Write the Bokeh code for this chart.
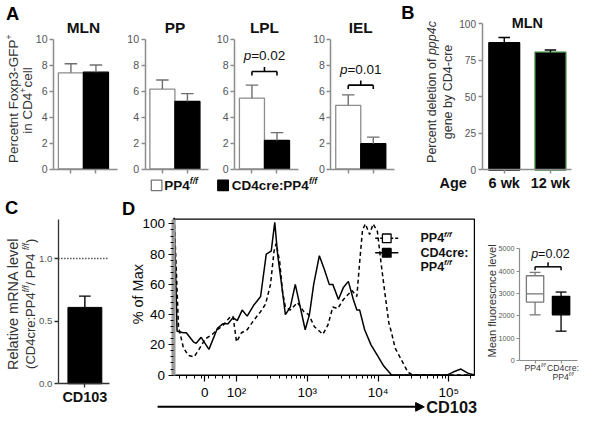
import math
from bokeh.plotting import figure
from bokeh.models import Range1d, Label, FixedTicker, Arrow, NormalHead, PrintfTickFormatter
from bokeh.layouts import row, column
from bokeh.embed import file_html
from bokeh.resources import INLINE

# ---------------- data ----------------
A_sites = ["MLN", "PP", "LPL", "IEL"]
A_ctrl = [7.4, 6.15, 5.45, 4.9]
A_ctrl_err = [0.7, 0.7, 1.0, 0.8]
A_ko = [7.45, 5.2, 2.2, 1.95]
A_ko_err = [0.55, 0.6, 0.6, 0.5]
A_p = [None, None, "0.02", "0.01"]
A_brk = [None, None, 7.5, 6.45]
A_yticks = [0, 2, 4, 6, 8, 10]

B_ages = ["6 wk", "12 wk"]
B_del = [87.0, 80.5]
B_err = [3.5, 1.5]
B_yticks = [0, 25, 50, 75, 100]

C_gene = "CD103"
C_rel = [0.61]
C_err = [0.09]
C_ref = 1.0
C_yticks = [0.0, 0.5, 1.0]

D_xticks = [1.55, 2, 3, 4, 5]
D_xlab = ["0", "10²", "10³", "10⁴", "10⁵"]
D_yticks = [0, 20, 40, 60, 80, 100]
D_cre_x = [1.12, 1.16, 1.25, 1.29, 1.39, 1.43, 1.50, 1.61, 1.73, 1.81,
           1.88, 1.95, 2.01, 2.08, 2.15, 2.24, 2.34, 2.42, 2.49, 2.54,
           2.58, 2.65, 2.69, 2.76, 2.83, 2.90, 2.97, 3.03, 3.09, 3.17,
           3.24, 3.31, 3.36, 3.44, 3.51, 3.58, 3.65, 3.70, 3.74, 3.81,
           3.90, 3.99, 4.08, 4.19, 4.97, 5.06, 5.17, 5.28, 5.36]
D_cre_y = [104, 29, 28, 28, 22, 21, 25, 17, 31, 34,
           34, 38, 36, 43, 39, 46, 52, 80, 82, 101,
           80, 55, 40, 45, 60, 45, 30, 40, 60, 79,
           70, 60, 60, 50, 58, 62, 50, 43, 43, 30,
           20, 13, 6, 0, 0, 2, 4, 1, 0]
D_wt_x = [1.12, 1.18, 1.25, 1.32, 1.40, 1.47, 1.56, 1.66, 1.73, 1.81,
          1.90, 1.95, 2.00, 2.07, 2.15, 2.24, 2.34, 2.41, 2.48, 2.53,
          2.56, 2.61, 2.65, 2.69, 2.76, 2.86, 2.95, 3.02, 3.10, 3.22,
          3.29, 3.36, 3.43, 3.51, 3.63, 3.70, 3.74, 3.78, 3.82, 3.88,
          3.93, 3.99, 4.04, 4.08, 4.15, 4.19, 4.24, 4.33, 4.42, 4.49, 5.36]
D_wt_y = [104, 32, 18, 13, 12, 17, 24, 27, 30, 33,
          38, 39, 22, 28, 30, 36, 42, 47, 60, 82,
          87, 75, 55, 45, 43, 48, 42, 40, 32, 27,
          33, 45, 44, 50, 56, 52, 75, 96, 100, 93,
          100, 95, 75, 60, 35, 28, 18, 10, 2, 0, 0]

E_lo = [2050, 1320]
E_q1 = [2620, 2050]
E_med = [2990, 2450]
E_q3 = [3800, 2880]
E_hi = [3950, 3070]
E_brk = 4200
E_p = "0.02"
E_yticks = [0, 1000, 2000, 3000, 4000, 5000]

# ---------------- helpers ----------------
FONT = "Liberation Sans"
K = 416 / 432
GREY = "#8c8c8c"
TXT = "#222222"

WR = {' ': 278, '!': 278, '(': 333, ')': 333, '+': 584, ',': 278, '-': 333, '.': 278, '/': 278,
      ':': 278, '=': 584, '%': 889,
      'A': 667, 'B': 667, 'C': 722, 'D': 722, 'E': 667, 'F': 611, 'G': 778, 'H': 722, 'I': 278,
      'J': 500, 'K': 667, 'L': 556, 'M': 833, 'N': 722, 'O': 778, 'P': 667, 'Q': 778, 'R': 722,
      'S': 667, 'T': 611, 'U': 722, 'V': 667, 'W': 944, 'X': 667, 'Y': 667, 'Z': 611,
      'a': 556, 'b': 556, 'c': 500, 'd': 556, 'e': 556, 'f': 278, 'g': 556, 'h': 556, 'i': 222,
      'j': 222, 'k': 500, 'l': 222, 'm': 833, 'n': 556, 'o': 556, 'p': 556, 'q': 556, 'r': 333,
      's': 500, 't': 278, 'u': 556, 'v': 500, 'w': 722, 'x': 500, 'y': 500, 'z': 500}
WB = dict(WR)
WB.update({':': 333, 'A': 722, 'B': 722, 'K': 722, 'L': 611, 'R': 722, 'b': 611, 'd': 611,
           'f': 333, 'g': 611, 'h': 611, 'i': 278, 'k': 556, 'l': 278, 'm': 889, 'n': 611,
           'o': 611, 'p': 611, 'q': 611, 'r': 389, 's': 556, 't': 333, 'u': 611, 'v': 556,
           'w': 778, 'x': 556, 'y': 556, 'c': 556})


def tw(s, size, bold=False):
    tab = WB if bold else WR
    return sum(tab.get(c, 556) for c in s) / 1000.0 * size


def bx(X):
    if X <= 0:
        return 0
    if X >= 600:
        return 584
    return int(round(3 + X * K))


def by(Y):
    if Y <= 0:
        return 0
    if Y >= 432:
        return 416
    return int(round(Y * K))


class Panel:
    """A figure whose frame fills its whole canvas; xmap / ymap pair reference
    pixel positions with data values, so that axes can sit at fixed locations."""

    def __init__(self, canvas, xmap, ymap, axes=True):
        Xa, Ya, Xb, Yb = canvas
        (XA, xa), (XB, xb) = xmap
        (YA, ya), (YB, yb) = ymap
        self.pa, self.xa, self.pb, self.xb = 3 + XA * K, xa, 3 + XB * K, xb
        self.qa, self.ya, self.qb, self.yb = YA * K, ya, YB * K, yb
        x0, x1 = self._x(bx(Xa)), self._x(bx(Xb))
        y0, y1 = self._y(by(Yb)), self._y(by(Ya))
        kw = {} if axes else dict(x_axis_type=None, y_axis_type=None)
        p = figure(width=bx(Xb) - bx(Xa), height=by(Yb) - by(Ya),
                   x_range=Range1d(x0, x1), y_range=Range1d(y0, y1),
                   output_backend="svg", toolbar_location=None,
                   min_border_left=0, min_border_right=0, min_border_top=0,
                   min_border_bottom=0, **kw)
        p.xgrid.visible = False
        p.ygrid.visible = False
        p.outline_line_color = None
        p.background_fill_color = "white"
        p.border_fill_color = "white"
        self.p = p

    def _x(self, page):
        return self.xa + (page - self.pa) / (self.pb - self.pa) * (self.xb - self.xa)

    def _y(self, page):
        return self.ya + (page - self.qa) / (self.qb - self.qa) * (self.yb - self.ya)

    def dx(self, X):
        return self._x(3 + X * K)

    def dy(self, Y):
        return self._y(Y * K)

    def rx(self, x):
        return (self.pa + (x - self.xa) / (self.xb - self.xa) * (self.pb - self.pa) - 3) / K

    def ry(self, y):
        return (self.qa + (y - self.ya) / (self.yb - self.ya) * (self.qb - self.qa)) / K


def put(P, X, Y, text, size, bold=False, italic=False, color=TXT, align="left",
        baseline="middle", angle=0.0):
    style = ("bold " if bold else "") + ("italic" if italic else "")
    style = style.strip() or "normal"
    P.p.add_layout(Label(x=P.dx(X), y=P.dy(Y), text=text, text_font=FONT,
                         text_font_size=f"{size * K:.2f}px", text_font_style=style,
                         text_color=color, text_align=align, text_baseline=baseline,
                         angle=angle))


def rich(P, X, Y, pieces, size, bold=False, color=TXT, align="center", rotated=False):
    items = []
    for txt, kind in pieces:
        s = size * 0.64 if kind in ("s", "S") else size
        it = kind in ("i", "s")
        items.append((txt, s, kind, it, tw(txt, s, bold)))
    total = sum(i[4] for i in items)
    cur = {"center": -total / 2, "left": 0.0, "right": -total}[align]
    for txt, s, kind, it, w in items:
        off = 0.34 * size if kind in ("s", "S") else 0.0
        if rotated:
            put(P, X - off, Y - cur, txt, s, bold, it, color, "left", "middle", math.pi / 2)
        else:
            put(P, X + cur, Y - off, txt, s, bold, it, color, "left", "middle")
        cur += w


def style_axes(p, color, width, tick_size, tick_color, tick_out, xloc, yloc, xb, yb,
               xticks_minor):
    for ax in p.axis:
        ax.axis_line_color = color
        ax.axis_line_width = width
        ax.major_tick_line_color = color
        ax.major_tick_line_width = width
        ax.major_tick_out = tick_out
        ax.major_tick_in = 0
        ax.minor_tick_line_color = None
        ax.major_label_text_font = FONT
        ax.major_label_text_font_size = f"{tick_size * K:.2f}px"
        ax.major_label_text_color = tick_color
        ax.major_label_standoff = 2
    p.yaxis.fixed_location = xloc
    p.xaxis.fixed_location = yloc
    p.xaxis.bounds = xb
    p.yaxis.bounds = yb
    if xticks_minor is not None:
        # category ticks without labels: drawn as minor ticks
        p.xaxis.ticker = FixedTicker(ticks=[], minor_ticks=xticks_minor)
        p.xaxis.minor_tick_line_color = color
        p.xaxis.minor_tick_line_width = width
        p.xaxis.minor_tick_out = tick_out
        p.xaxis.minor_tick_in = 0


SPLIT = 201  # boundary between the top and the bottom row (reference px)

# ---------------- panel A ----------------
AX = [52, 147, 240, 340]
A_cuts = [0, 122, 215, 308, 410]
A_figs = []
for i in range(4):
    P = Panel((A_cuts[i], 0, A_cuts[i + 1], 183), ((AX[i] + 18, 1), (AX[i] + 44, 2)),
              ((175, 0), (40, 10)))
    p = P.p
    style_axes(p, GREY, 1.5, 11, "#555555", 4, 1 - 18 / 26, 0, (1 - 18 / 26, 2 + 22 / 26),
               (0, 10), [1, 2])
    p.yaxis.ticker = FixedTicker(ticks=A_yticks)
    tops = [A_ctrl[i], A_ko[i]]
    errs = [A_ctrl_err[i], A_ko_err[i]]
    p.vbar(x=[1, 2], width=1.0, bottom=0, top=tops, fill_color=["white", "black"],
           line_color=[GREY, "black"], line_width=1.3)
    ends = [t + e for t, e in zip(tops, errs)]
    p.segment(x0=[1, 2], y0=tops, x1=[1, 2], y1=ends, line_color="#6e6e6e", line_width=1.4)
    cw = 0.25
    p.segment(x0=[1 - cw, 2 - cw], y0=ends, x1=[1 + cw, 2 + cw], y1=ends,
              line_color="#6e6e6e", line_width=1.4)
    put(P, P.rx(1.5), 28, A_sites[i], 16, bold=True, color="#111111", align="center")
    if A_p[i]:
        b = A_brk[i]
        p.multi_line(xs=[[1, 2], [1, 1], [2, 2], [1.5, 1.5]],
                     ys=[[b, b], [b, b - 0.3], [b, b - 0.3], [b, b + 0.35]],
                     line_color="black", line_width=1.6)
        rich(P, P.rx(1.5), P.ry(b + 1.2), [("p", "i"), ("=" + A_p[i], "n")], 14,
             color="#111111")
    if i == 0:
        put(P, 9.5, 13.5, "A", 19, bold=True, color="black", align="center")
        rich(P, 10, 102, [("Percetnt Foxp3-GFP", "n"), ("+", "S")], 14, color="#333333",
             rotated=True)
        rich(P, 25, 102, [("in CD4", "n"), ("+", "S"), (" cell", "n")], 14, color="#333333",
             rotated=True)
    A_figs.append(p)

# legend strip for A
L = Panel((0, 183, 410, SPLIT), ((0, 0), (410, 410)), ((SPLIT, 0), (183, 18)), axes=False)
L.p.scatter(x=[L.dx(159), L.dx(228)], y=[L.dy(192), L.dy(192)], marker="square",
            size=11 * K, fill_color=["white", "black"], line_color=["#777777", "black"],
            line_width=1.3)
rich(L, 167, 192, [("PP4", "n"), ("f/f", "s")], 14, bold=True, color="#111111", align="left")
rich(L, 237, 192, [("CD4cre:PP4", "n"), ("f/f", "s")], 14, bold=True, color="#111111",
     align="left")

# ---------------- panel B ----------------
PB = Panel((410, 0, 600, SPLIT), ((520, 1), (568, 2)), ((176, 0), (24, 100)))
p = PB.p
style_axes(p, GREY, 1.5, 10.5, "#555555", 4, 1 - 23 / 48, 0, (1 - 23 / 48, 2 + 22 / 48),
           (0, 100), [1, 2])
p.yaxis.ticker = FixedTicker(ticks=B_yticks)
p.vbar(x=[1, 2], width=32 / 48, bottom=0, top=B_del, fill_color="black",
       line_color=["black", "#2e7d32"], line_width=1.3)
bends = [t + e for t, e in zip(B_del, B_err)]
p.segment(x0=[1, 2], y0=B_del, x1=[1, 2], y1=bends, line_color="black", line_width=1.4)
p.segment(x0=[0.875, 1.875], y0=bends, x1=[1.125, 2.125], y1=bends, line_color="black",
          line_width=1.4)
put(PB, 420, 12, "B", 19, bold=True, color="black", align="center")
put(PB, PB.rx(1.5), 23, "MLN", 15, bold=True, color="#111111", align="center")
for j, lab in enumerate(B_ages):
    put(PB, PB.rx(j + 1), 190, lab, 15, bold=True, color="#111111", align="center")
put(PB, 467, 190, "Age", 15, bold=True, color="#111111", align="center")
rich(PB, 445, 95, [("Percent deletion of ", "n"), ("ppp4c", "i")], 13, color="#333333",
     rotated=True)
rich(PB, 462, 95, [("gene by CD4-cre", "n")], 13, color="#333333", rotated=True)

# ---------------- panel C ----------------
PC = Panel((0, SPLIT, 115, 432), ((57, 0), (112, 1)), ((398, 0), (268, 1)))
p = PC.p
style_axes(p, "#333333", 1.3, 10, "#555555", 4, 0, 0, (0, 0.96), (0, 1.31), [0.5])
p.yaxis.ticker = FixedTicker(ticks=C_yticks)
p.yaxis.formatter = PrintfTickFormatter(format="%.1f")
p.vbar(x=[0.5], width=0.64, bottom=0, top=C_rel, fill_color="black", line_color="black")
cend = [C_rel[0] + C_err[0]]
p.segment(x0=[0.5], y0=C_rel, x1=[0.5], y1=cend, line_color="black", line_width=1.4)
p.segment(x0=[0.39], y0=cend, x1=[0.61], y1=cend, line_color="black", line_width=1.4)
p.line(x=[0, 0.96], y=[C_ref, C_ref], line_dash="1 2", line_color="black", line_width=1.5)
put(PC, 8.5, 215, "C", 19, bold=True, color="black", align="center")
put(PC, PC.rx(0.5), 412, C_gene, 15, bold=True, color="#111111", align="center")
rich(PC, 10, 315, [("Relative mRNA level", "n")], 15, color="#333333", rotated=True)
rich(PC, 28, 315, [("(CD4cre:PP4", "n"), ("f/f", "s"), (" / PP4", "n"), ("f/f", "s"),
                   (")", "n")], 13.5, color="#333333", rotated=True)

# ---------------- panel D histogram ----------------
PD = Panel((115, SPLIT, 495, 432), ((242, 2), (315.5, 3)), ((389, 0), (232, 100)))
p = PD.p
xl, xr_ = PD.dx(177), PD.dx(489)
ytop = PD.dy(227)
style_axes(p, "black", 1.2, 14, "black", 6, xl, 0, (xl, xr_), (0, ytop), None)
p.yaxis.axis_line_color = "#9a9a9a"
p.yaxis.axis_line_width = 4
p.yaxis.major_tick_out = 5
p.yaxis.major_label_standoff = 4
minor_x = [1.2, 1.3, 1.4, 1.5, 1.6, 1.7, 1.8, 1.9] + \
          [n + math.log10(k) for n in (2, 3, 4) for k in range(2, 10)] + [5 + math.log10(2)]
p.xaxis.ticker = FixedTicker(ticks=D_xticks, minor_ticks=minor_x)
p.xaxis.major_label_overrides = {t: s for t, s in zip(D_xticks, D_xlab)}
p.xaxis.major_label_standoff = 4
p.yaxis.ticker = FixedTicker(ticks=D_yticks, minor_ticks=list(range(0, 101, 4)))
for ax in p.axis:
    ax.minor_tick_line_color = "black"
    ax.minor_tick_out = 3
    ax.minor_tick_in = 0
    ax.major_tick_line_color = "black"
# plot box
p.quad(left=[xl], right=[xr_], bottom=[0], top=[ytop], fill_color=None, line_color="black",
       line_width=1.2)
p.line(D_wt_x, D_wt_y, line_color="black", line_width=1.5, line_dash="4 3")
p.line(D_cre_x, D_cre_y, line_color="black", line_width=1.5)
# legend
p.line([PD.dx(386), PD.dx(410)], [PD.dy(247), PD.dy(247)], line_color="black",
       line_width=1.5, line_dash="3 2")
p.line([PD.dx(386), PD.dx(410)], [PD.dy(262), PD.dy(262)], line_color="black", line_width=1.5)
p.scatter(x=[PD.dx(398), PD.dx(398)], y=[PD.dy(247), PD.dy(262)], marker="square",
          size=9 * K, fill_color=["white", "black"], line_color="black", line_width=1.3)
rich(PD, 433, 247, [("PP4", "n"), ("f/f", "s")], 13, bold=True, color="#111111", align="left")
put(PD, 433, 262, "CD4cre:", 13, bold=True, color="#111111")
rich(PD, 433, 277, [("PP4", "n"), ("f/f", "s")], 13, bold=True, color="#111111", align="left")
put(PD, 130, 216, "D", 19, bold=True, color="black", align="center")
put(PD, 140, 305, "% of Max", 15, color="#111111", align="center", angle=math.pi / 2)
p.add_layout(Arrow(end=NormalHead(size=9 * K, fill_color="black", line_color="black"),
                   x_start=PD.dx(160), y_start=PD.dy(422), x_end=PD.dx(437), y_end=PD.dy(422),
                   line_width=2, line_color="black"))
put(PD, 439, 422, "CD103", 17, bold=True, color="#111111")

# ---------------- panel D box plot ----------------
PE = Panel((495, SPLIT, 600, 432), ((552, 1), (579, 2)), ((374, 0), (258, 5000)))
p = PE.p
style_axes(p, GREY, 1.2, 7.5, "#555555", 3, 1 - 16 / 27, 0, (1 - 16 / 27, 2 + 17 / 27),
           (0, 5000), [1, 2])
p.yaxis.ticker = FixedTicker(ticks=E_yticks)
BOXG = "#7a7a7a"
bw = 18 / 27
p.vbar(x=[1, 2], width=bw, bottom=E_q1, top=E_q3, fill_color=["white", "black"],
       line_color=[BOXG, "black"], line_width=1.3)
p.segment(x0=[1 - bw / 2, 2 - bw / 2], y0=E_med, x1=[1 + bw / 2, 2 + bw / 2], y1=E_med,
          line_color=[BOXG, "black"], line_width=1.3)
p.segment(x0=[1, 2, 1, 2], y0=E_q3 + E_q1, x1=[1, 2, 1, 2], y1=E_hi + E_lo,
          line_color=[BOXG, "black", BOXG, "black"], line_width=1.3)
ch = 0.21
p.segment(x0=[1 - ch, 2 - ch, 1 - ch, 2 - ch], y0=E_hi + E_lo,
          x1=[1 + ch, 2 + ch, 1 + ch, 2 + ch], y1=E_hi + E_lo,
          line_color=[BOXG, "black", BOXG, "black"], line_width=1.3)
p.multi_line(xs=[[1, 2], [1, 1], [2, 2], [1.5, 1.5]],
             ys=[[E_brk, E_brk], [E_brk, E_brk - 150], [E_brk, E_brk - 150],
                 [E_brk, E_brk + 200]], line_color="black", line_width=1.5)
rich(PE, 568, 263, [("p", "i"), ("=" + E_p, "n")], 13, color="#111111")
rich(PE, PE.rx(1), 382, [("PP4", "n"), ("f/f", "s")], 9, color="#333333")
put(PE, PE.rx(2) + 2, 382, "CD4cre:", 9, color="#333333", align="center")
rich(PE, PE.rx(2) + 2, 391, [("PP4", "n"), ("f/f", "s")], 9, color="#333333")
put(PE, 507, 312, "Mean fluorescnce level", 11.5, color="#333333", align="center",
    angle=math.pi / 2)

# ---------------- layout ----------------
top = row(column(row(*A_figs), L.p), PB.p)
bottom = row(PC.p, PD.p, PE.p)
lay = column(top, bottom)

open("out.html", "w").write(file_html(lay, INLINE))
